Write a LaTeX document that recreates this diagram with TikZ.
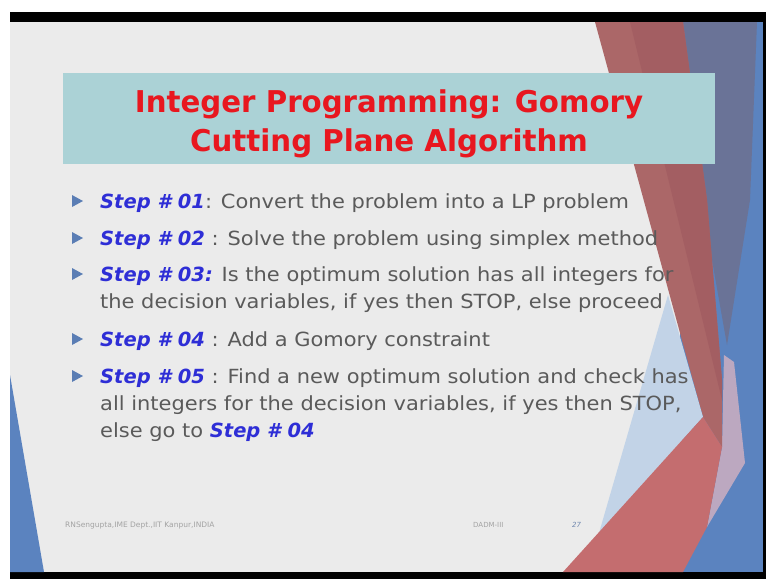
\documentclass[tikz,border=0pt]{standalone}
\usepackage{fontspec}
\setmainfont{DejaVu Sans}[FakeStretch=1.075]
\newfontfamily\stepfont{DejaVu Sans}
\newfontfamily\titlefont{DejaVu Sans}[FakeStretch=0.975]
\newfontfamily\footfont{DejaVu Sans}

\definecolor{slidebg}{HTML}{EBEBEB}
\definecolor{titlefill}{HTML}{ABD2D6}
\definecolor{titlered}{HTML}{E8171F}
\definecolor{stepblue}{HTML}{2E2ED6}
\definecolor{bodygray}{HTML}{5A5A5A}
\definecolor{bulletblue}{HTML}{5A7DB4}
\definecolor{footgray}{HTML}{A3A3A3}
\definecolor{edgeblue}{HTML}{5B83BF}
\definecolor{slate}{HTML}{6A7397}
\definecolor{bandred}{HTML}{AB6768}
\definecolor{banddark}{HTML}{A35E62}
\definecolor{salmon}{HTML}{C46D6F}
\definecolor{paleblue}{HTML}{C2D3E7}
\definecolor{lavender}{HTML}{BCA8C0}

\newcommand\stepmark[1]{\textcolor{stepblue}{\stepfont\bfseries\itshape #1}}

\tikzset{
  titleline/.style={anchor=base, inner sep=0pt, text=titlered,
    font=\titlefont\fontsize{30}{36}\selectfont\bfseries},
  bodyline/.style={anchor=base west, inner sep=0pt, text=bodygray,
    font=\fontsize{19.5}{24}\selectfont},
  footer/.style={anchor=base west, inner sep=0pt, text=footgray,
    font=\footfont\fontsize{7.5}{9}\selectfont},
  bulletmark/.pic={\fill[bulletblue] (0,0) -- (0,-12) -- (11,-6) -- cycle;}
}

\begin{document}
\begin{tikzpicture}[x=1pt,y=-1pt]
\useasboundingbox (0,0) rectangle (766,579);

% frame and slide background
\fill[white] (0,0) rectangle (766,579);
\fill[black] (10,12) rectangle (766,579);
\fill[slidebg] (10,22) rectangle (763,572);

% left accent
\fill[edgeblue] (10,375) -- (44,572) -- (10,572) -- cycle;

% right-hand facets
\fill[edgeblue] (680,22) rectangle (763,572);
\fill[slate] (683,22) -- (757,22) -- (750,200) -- (727,345) -- (712,260) -- cycle;
\fill[lavender] (724,355) -- (734,362) -- (745,463) -- (707,527) -- (722,447) -- cycle;
\fill[bandred] (595,22) -- (683,22) -- (707,200) -- (722,380) -- (722,447) -- (703,417) -- cycle;
\fill[banddark] (630,22) -- (683,22) -- (707,200) -- (722,380) -- (722,400) -- cycle;
\fill[paleblue] (668,295) -- (703,417) -- (599,533) -- cycle;
\fill[salmon] (563,572) -- (703,417) -- (722,447) -- (707,527) -- (683,572) -- cycle;

% title banner
\fill[titlefill] (63,73) rectangle (715,164);
\node[titleline] (title1) at (389,112) {Integer Programming: Gomory};
\node[titleline] (title2) at (389,151) {Cutting Plane Algorithm};

% steps
\pic at (72,207) {bulletmark};
\node[bodyline] (s1) at (100,208) {\stepmark{Step \# 01}: Convert the problem into a LP problem};
\pic at (72,244) {bulletmark};
\node[bodyline] (s2) at (100,245) {\stepmark{Step \# 02} : Solve the problem using simplex method};
\pic at (72,280) {bulletmark};
\node[bodyline] (s3) at (100,281) {\stepmark{Step \# 03:} Is the optimum solution has all integers for};
\node[bodyline] (s3b) at (100,308) {the decision variables, if yes then STOP, else proceed};
\pic at (72,345) {bulletmark};
\node[bodyline] (s4) at (100,346) {\stepmark{Step \# 04} : Add a Gomory constraint};
\pic at (72,382) {bulletmark};
\node[bodyline] (s5) at (100,383) {\stepmark{Step \# 05} : Find a new optimum solution and check has};
\node[bodyline] (s5b) at (100,410) {all integers for the decision variables, if yes then STOP,};
\node[bodyline] (s5c) at (100,437) {else go to \stepmark{Step \# 04}};

% footer
\node[footer] (author) at (65,527) {RNSengupta,IME Dept.,IIT Kanpur,INDIA};
\node[footer, font=\footfont\fontsize{7}{8}\selectfont] (course) at (473,527) {DADM-III};
\node[footer, font=\footfont\fontsize{7}{8}\selectfont\itshape, text=bulletblue!70!footgray] (page) at (572,527) {27};
\end{tikzpicture}
\end{document}
